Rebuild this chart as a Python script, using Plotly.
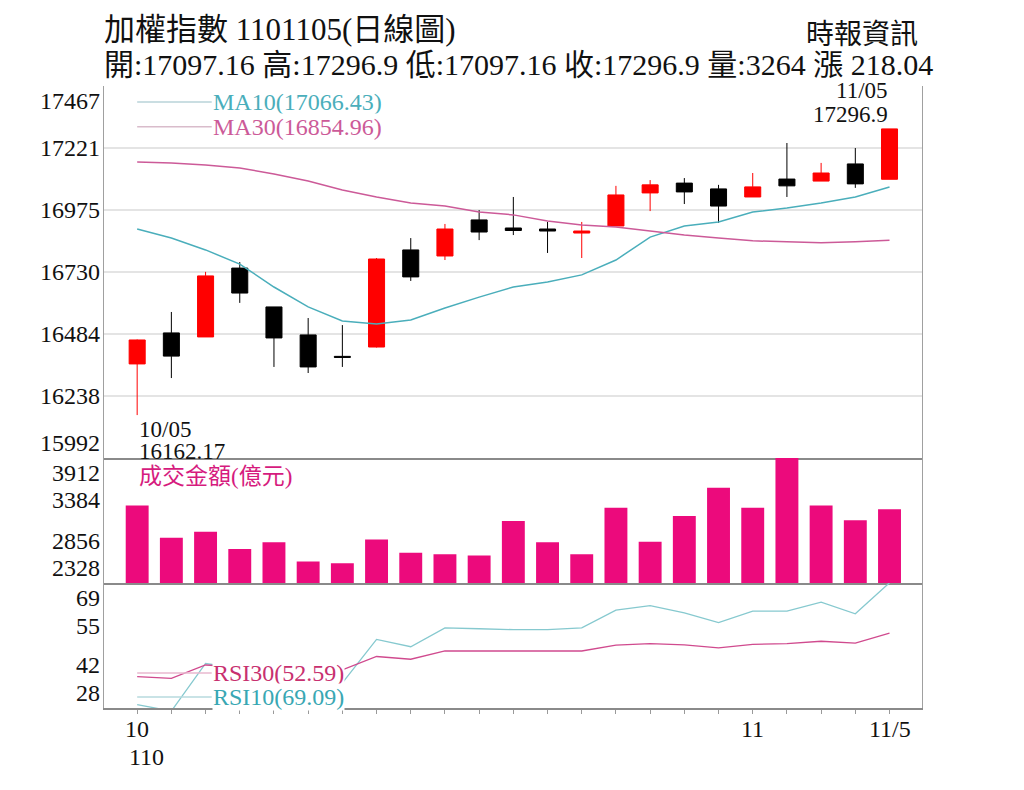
import plotly.graph_objects as go
from plotly.subplots import make_subplots

FONT = "Liberation Serif, Noto Sans CJK TC, serif"

# --- data ---
days = ["10/05", "10/06", "10/07", "10/08", "10/12", "10/13", "10/14", "10/15",
        "10/18", "10/19", "10/20", "10/21", "10/22", "10/25", "10/26", "10/27",
        "10/28", "10/29", "11/01", "11/02", "11/03", "11/04", "11/05"]
idx = list(range(len(days)))

opens = [16365, 16488, 16472, 16745, 16591, 16480, 16395, 16432, 16817, 16793, 16936, 16904,
         16900, 16884, 16912, 17043, 17082, 17059, 17027, 17098, 17090, 17158, 17097.16]
highs = [16462, 16571, 16730, 16769, 16591, 16547, 16519, 16785, 16864, 16920, 16975, 17027,
         16928, 16928, 17071, 17094, 17102, 17075, 17122, 17241, 17162, 17221, 17296.9]
lows = [16162.17, 16309, 16472, 16607, 16353, 16329, 16353, 16430, 16694, 16777, 16856, 16876,
        16805, 16785, 16912, 16971, 16999, 16924, 17027, 17027, 17090, 17063, 17097.16]
closes = [16460, 16396, 16714, 16646, 16468, 16353, 16391, 16781, 16710, 16900, 16888, 16894,
          16892, 16892, 17035, 17075, 17047, 16991, 17067, 17071, 17122, 17078.86, 17296.9]

ma10 = [16900, 16864, 16817, 16761, 16670, 16591, 16535, 16523, 16539, 16587, 16630, 16670,
        16690, 16718, 16777, 16868, 16912, 16928, 16967, 16983, 17003, 17027, 17066.43]
ma30 = [17166, 17162, 17154, 17142, 17118, 17090, 17055, 17027, 17003, 16991, 16967, 16956,
        16932, 16916, 16908, 16892, 16876, 16864, 16853, 16849, 16845, 16849, 16854.96]

volume = [3311, 2901, 2977, 2759, 2843, 2599, 2578, 2880, 2712, 2691, 2678, 3115,
          2843, 2691, 3282, 2851, 3178, 3534, 3282, 3912, 3311, 3123, 3264]

rsi10 = [29.1, 27.0, 42.6, 41.0, 37.0, 34.0, 36.2, 50.5, 48.1, 54.3, 54.0, 53.7,
         53.7, 54.3, 60.1, 61.6, 59.2, 56.0, 59.8, 59.8, 62.7, 58.9, 69.09]
rsi30 = [38.3, 37.7, 42.1, 41.5, 40.5, 40.0, 40.5, 44.9, 44.0, 46.7, 46.7, 46.7,
         46.7, 46.7, 48.6, 49.1, 48.7, 47.7, 48.9, 49.1, 49.9, 49.3, 52.59]

price_ticks = [15992, 16238, 16484, 16730, 16975, 17221, 17467]
vol_ticks = [2328, 2856, 3384, 3912]
rsi_ticks = [28, 42, 55, 69]
x_labels = {0: "10", 18: "11", 22: "11/5"}
year_label = "110"

title_text = "加權指數 1101105(日線圖)"
info_text = "開:17097.16 高:17296.9 低:17097.16 收:17296.9 量:3264 漲 218.04"
source_text = "時報資訊"

RED = "#ff0000"
MA10_C = "#4aaebb"
MA30_C = "#cc5a98"
VOL_C = "#ec0a7c"

fig = make_subplots(rows=3, cols=1, shared_xaxes=True, vertical_spacing=0,
                    row_heights=[372, 125, 125])

fig.add_trace(go.Candlestick(
    x=idx, open=opens, high=highs, low=lows, close=closes,
    increasing=dict(line=dict(color=RED, width=1), fillcolor=RED),
    decreasing=dict(line=dict(color="#000000", width=1), fillcolor="#000000"),
    whiskerwidth=0, showlegend=False, hoverinfo="skip",
), row=1, col=1)
fig.add_trace(go.Scatter(x=idx, y=ma10, mode="lines", line=dict(color=MA10_C, width=1.5),
                         showlegend=False), row=1, col=1)
fig.add_trace(go.Scatter(x=idx, y=ma30, mode="lines", line=dict(color=MA30_C, width=1.5),
                         showlegend=False), row=1, col=1)

fig.add_trace(go.Bar(x=idx, y=volume, width=0.67, marker=dict(color=VOL_C, line_width=0),
                     showlegend=False), row=2, col=1)

fig.add_trace(go.Scatter(x=idx, y=rsi10, mode="lines", line=dict(color="#86c9cf", width=1.3),
                         showlegend=False), row=3, col=1)
fig.add_trace(go.Scatter(x=idx, y=rsi30, mode="lines", line=dict(color="#d04a8e", width=1.3),
                         showlegend=False), row=3, col=1)

# axes
for r in (1, 2, 3):
    fig.update_xaxes(row=r, col=1, range=[-0.97, 22.95], showgrid=False, zeroline=False,
                     showline=True, linecolor="#8a8a8a", linewidth=2,
                     tickvals=idx, ticks="outside" if r == 3 else "", ticklen=4,
                     tickcolor="#9a9a9a", showticklabels=False)
fig.update_layout(xaxis_rangeslider_visible=False)

fig.update_yaxes(row=1, col=1, range=[15992, 17467], tickvals=price_ticks, showticklabels=False,
                 showgrid=True, gridcolor="#e4e4e4", gridwidth=2, zeroline=False,
                 showline=True, linecolor="#a0a0a0", linewidth=1, mirror=True)
fig.update_yaxes(row=2, col=1, range=[2328, 3912], tickvals=vol_ticks, showticklabels=False,
                 showgrid=False, zeroline=False,
                 showline=True, linecolor="#a0a0a0", linewidth=1, mirror=True)
fig.update_yaxes(row=3, col=1, range=[28, 69], tickvals=rsi_ticks, showticklabels=False,
                 showgrid=False, zeroline=False,
                 showline=True, linecolor="#a0a0a0", linewidth=1, mirror=True)

ann = []
TICK_FONT = dict(family=FONT, size=24, color="#111")


def tick_labels(vals, yref):
    # end labels are pulled inside their panel, as in the original
    for i, v in enumerate(vals):
        anchor = "bottom" if i == 0 else ("top" if i == len(vals) - 1 else "middle")
        ann.append(dict(text=str(v), x=0, xref="paper", xanchor="right", xshift=-2,
                        y=v, yref=yref, yanchor=anchor, showarrow=False, font=TICK_FONT))


tick_labels(price_ticks, "y")
tick_labels(vol_ticks, "y2")
tick_labels(rsi_ticks, "y3")

for xv, lab in x_labels.items():
    ann.append(dict(text=lab, x=xv, xref="x", y=0, yref="paper", xanchor="center",
                    yanchor="top", yshift=-6, showarrow=False, font=TICK_FONT))
ann.append(dict(text=year_label, x=0, y=0, xref="x", yref="paper", xanchor="left", xshift=-10,
                yanchor="top", yshift=-34, showarrow=False, font=TICK_FONT))

# extreme labels
ann.append(dict(text="10/05", x=0, y=lows[0], xref="x", yref="y", xanchor="left", yanchor="top",
                showarrow=False, font=dict(family=FONT, size=23, color="#111")))
ann.append(dict(text="16162.17", x=0, y=lows[0], xref="x", yref="y", xanchor="left",
                yanchor="top", yshift=-22, showarrow=False,
                font=dict(family=FONT, size=23, color="#111")))
ann.append(dict(text="11/05", x=22, y=highs[-1], xref="x", yref="y", xanchor="right",
                yanchor="bottom", yshift=24, showarrow=False,
                font=dict(family=FONT, size=23, color="#111")))
ann.append(dict(text="17296.9", x=22, y=highs[-1], xref="x", yref="y", xanchor="right",
                yanchor="bottom", showarrow=False, font=dict(family=FONT, size=23, color="#111")))

# indicator legends
shapes = []
legend_items = [
    ("MA10(17066.43)", MA10_C, "#b9d3d8", 17404, "y"),
    ("MA30(16854.96)", MA30_C, "#d9bccb", 17305, "y"),
    ("RSI30(52.59)", "#c8306f", "#e9b9cf", 39.5, "y3"),
    ("RSI10(69.09)", "#39a7b3", "#b7dade", 31.6, "y3"),
]
for text, tcol, lcol, yv, yref in legend_items:
    shapes.append(dict(type="line", xref="x", yref=yref, x0=0, x1=2.18, y0=yv, y1=yv,
                       line=dict(color=lcol, width=1.5), layer="above"))
    ann.append(dict(text=text, x=2.18, y=yv, xref="x", yref=yref, xanchor="left",
                    yanchor="middle", showarrow=False, bgcolor="white", borderpad=0,
                    font=dict(family=FONT, size=24, color=tcol)))

ann.append(dict(text="成交金額(億元)", x=0, y=3912, xref="x", yref="y2", xanchor="left",
                yanchor="top", yshift=-4, showarrow=False,
                font=dict(family=FONT, size=23, color="#d61b7e")))

# header
ann.append(dict(text=title_text, x=0, y=1.0916, xref="paper", yref="paper", xanchor="left",
                yanchor="middle", xshift=-2, showarrow=False,
                font=dict(family=FONT, size=31, color="#111")))
ann.append(dict(text=info_text, x=0, y=1.0338, xref="paper", yref="paper", xanchor="left",
                yanchor="middle", xshift=-2, showarrow=False,
                font=dict(family=FONT, size=30, color="#111")))
ann.append(dict(text=source_text, x=0.9976, y=1.0836, xref="paper", yref="paper",
                xanchor="right", yanchor="middle", showarrow=False,
                font=dict(family=FONT, size=28, color="#111")))

# page body has an 8px margin, so the figure is sized to sit inside the window
fig.update_layout(
    width=1008, height=774,
    margin=dict(l=96, r=94, t=78, b=74),
    paper_bgcolor="white", plot_bgcolor="white",
    boxgap=0.33,
    annotations=ann, shapes=shapes,
    showlegend=False,
)

fig.write_html("out.html")
